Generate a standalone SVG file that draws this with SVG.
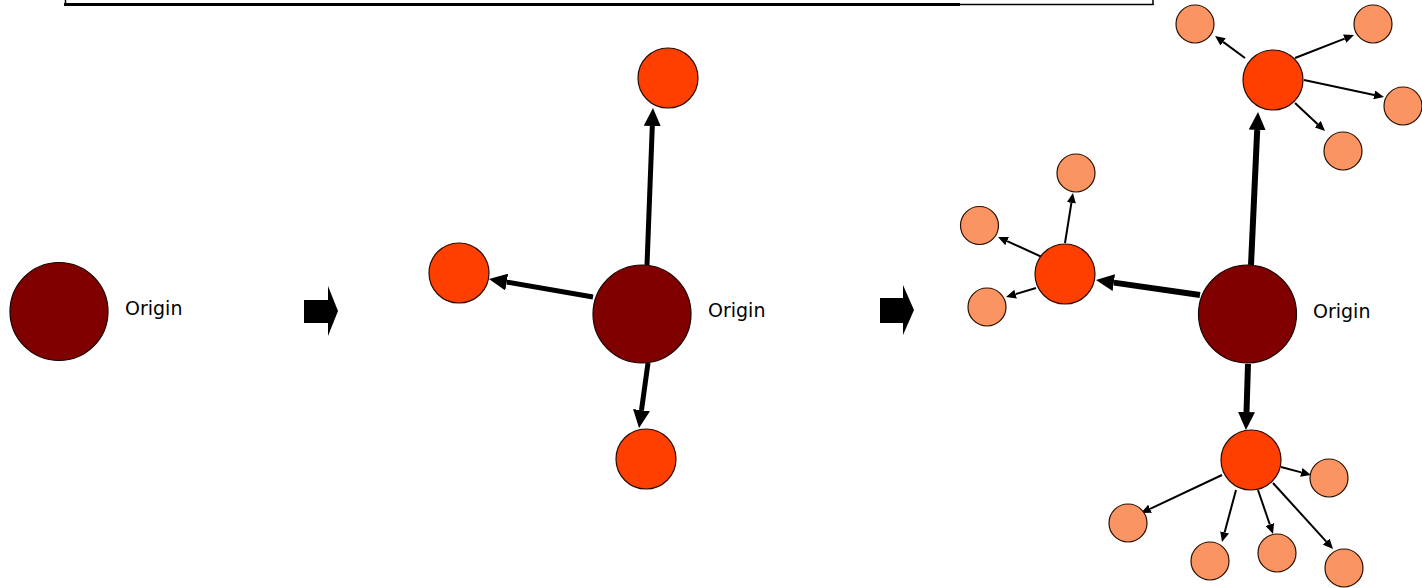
<svg xmlns="http://www.w3.org/2000/svg" width="1422" height="588" viewBox="0 0 1422 588">
<style>
.origin{fill:#800000;stroke:#1a0000;stroke-width:1.2}
.mid{fill:#ff3f00;stroke:#2a0a00;stroke-width:1.2}
.leaf{fill:#fa9563;stroke:#2a1000;stroke-width:1.2}
.lbl{font-family:"DejaVu Sans","Liberation Sans",sans-serif;font-size:19px;fill:#000}
.thick{stroke:#000;stroke-width:5;fill:none;marker-end:url(#hb)}
.thick2{stroke:#000;stroke-width:6;fill:none;marker-end:url(#hb)}
.thin{stroke:#000;stroke-width:2;fill:none;marker-end:url(#hs)}
.blk{fill:#000}
</style>
<defs>
<marker id="hb" markerUnits="userSpaceOnUse" markerWidth="18" markerHeight="17" refX="0" refY="8.5" orient="auto"><path d="M0,0 L18,8.5 L0,17 Z" fill="#000"/></marker>
<marker id="hs" markerUnits="userSpaceOnUse" markerWidth="10" markerHeight="9" refX="0" refY="4.5" orient="auto"><path d="M0,0 L10,4.5 L0,9 Z" fill="#000"/></marker>
</defs>
<rect width="1422" height="588" fill="#fff"/>
<g id="frame">
<line x1="65.5" y1="0" x2="65.5" y2="5" stroke="#000" stroke-width="1.5"/>
<line x1="64" y1="4.5" x2="960" y2="4.5" stroke="#000" stroke-width="3"/>
<line x1="960" y1="4.5" x2="1153.5" y2="4.5" stroke="#000" stroke-width="1.5"/>
<line x1="1153" y1="0" x2="1153" y2="5" stroke="#000" stroke-width="1.5"/>
</g>
<g id="step-arrows">
<path class="blk" d="M304,300 H328 V286 L338,311 L328,336 V323 H304 Z"/>
<path class="blk" d="M880,298 H903 V285 L914,310 L903,335 V323 H880 Z"/>
</g>
<g id="connectors">
<line class="thick" x1="647" y1="265" x2="652.3" y2="126"/>
<line class="thick" x1="593" y1="297" x2="506.7" y2="282.1"/>
<line class="thick" x1="648" y1="363" x2="641.5" y2="410.2"/>
<line class="thick2" x1="1200" y1="295" x2="1113.8" y2="282.6"/>
<line class="thick2" x1="1251" y1="265" x2="1257.2" y2="130"/>
<line class="thick2" x1="1248" y1="364" x2="1246.5" y2="412"/>
<line class="thin" x1="1065" y1="243" x2="1071.4" y2="202.9"/>
<line class="thin" x1="1042" y1="257" x2="1007.1" y2="241.1"/>
<line class="thin" x1="1036" y1="288" x2="1015.6" y2="294.1"/>
<line class="thin" x1="1245" y1="58" x2="1223.1" y2="41.9"/>
<line class="thin" x1="1295" y1="58" x2="1344.7" y2="38.6"/>
<line class="thin" x1="1304" y1="80" x2="1374.2" y2="94.9"/>
<line class="thin" x1="1295" y1="103" x2="1317.7" y2="124.2"/>
<line class="thin" x1="1281" y1="467" x2="1301.3" y2="472.4"/>
<line class="thin" x1="1222" y1="475" x2="1150.1" y2="508.8"/>
<line class="thin" x1="1236" y1="490" x2="1224.6" y2="532.4"/>
<line class="thin" x1="1258" y1="490" x2="1269.8" y2="524.5"/>
<line class="thin" x1="1273" y1="483" x2="1326.3" y2="541.6"/>
</g>
<g id="origin1"><circle class="origin" cx="59" cy="311.5" r="49"/><text class="lbl" x="125" y="315">Origin</text></g>
<g id="origin2"><circle class="origin" cx="642" cy="314" r="49"/><text class="lbl" x="708" y="317">Origin</text></g>
<g id="n2-top"><circle class="mid" cx="668" cy="78" r="30"/></g>
<g id="n2-left"><circle class="mid" cx="459" cy="273" r="30"/></g>
<g id="n2-bottom"><circle class="mid" cx="646" cy="459" r="30"/></g>
<g id="origin3"><circle class="origin" cx="1247.5" cy="314" r="49"/><text class="lbl" x="1313" y="318">Origin</text></g>
<g id="n3-left"><circle class="mid" cx="1065" cy="274" r="30"/></g>
<g id="n3-top"><circle class="mid" cx="1273" cy="80" r="30"/></g>
<g id="n3-bottom"><circle class="mid" cx="1251" cy="460" r="30"/></g>
<g id="l-left-top"><circle class="leaf" cx="1076" cy="173" r="19"/></g>
<g id="l-left-left"><circle class="leaf" cx="979.5" cy="225.5" r="19"/></g>
<g id="l-left-bl"><circle class="leaf" cx="987" cy="307" r="19"/></g>
<g id="l-top-tl"><circle class="leaf" cx="1195" cy="24" r="19"/></g>
<g id="l-top-tr"><circle class="leaf" cx="1373" cy="24" r="19"/></g>
<g id="l-top-r"><circle class="leaf" cx="1403" cy="106" r="19"/></g>
<g id="l-top-b"><circle class="leaf" cx="1343" cy="151" r="19"/></g>
<g id="l-bot-r"><circle class="leaf" cx="1329" cy="478" r="19"/></g>
<g id="l-bot-fl"><circle class="leaf" cx="1128" cy="523" r="19"/></g>
<g id="l-bot-b1"><circle class="leaf" cx="1210" cy="561" r="19"/></g>
<g id="l-bot-b2"><circle class="leaf" cx="1277" cy="553" r="19"/></g>
<g id="l-bot-b3"><circle class="leaf" cx="1344" cy="568" r="19"/></g>
</svg>
